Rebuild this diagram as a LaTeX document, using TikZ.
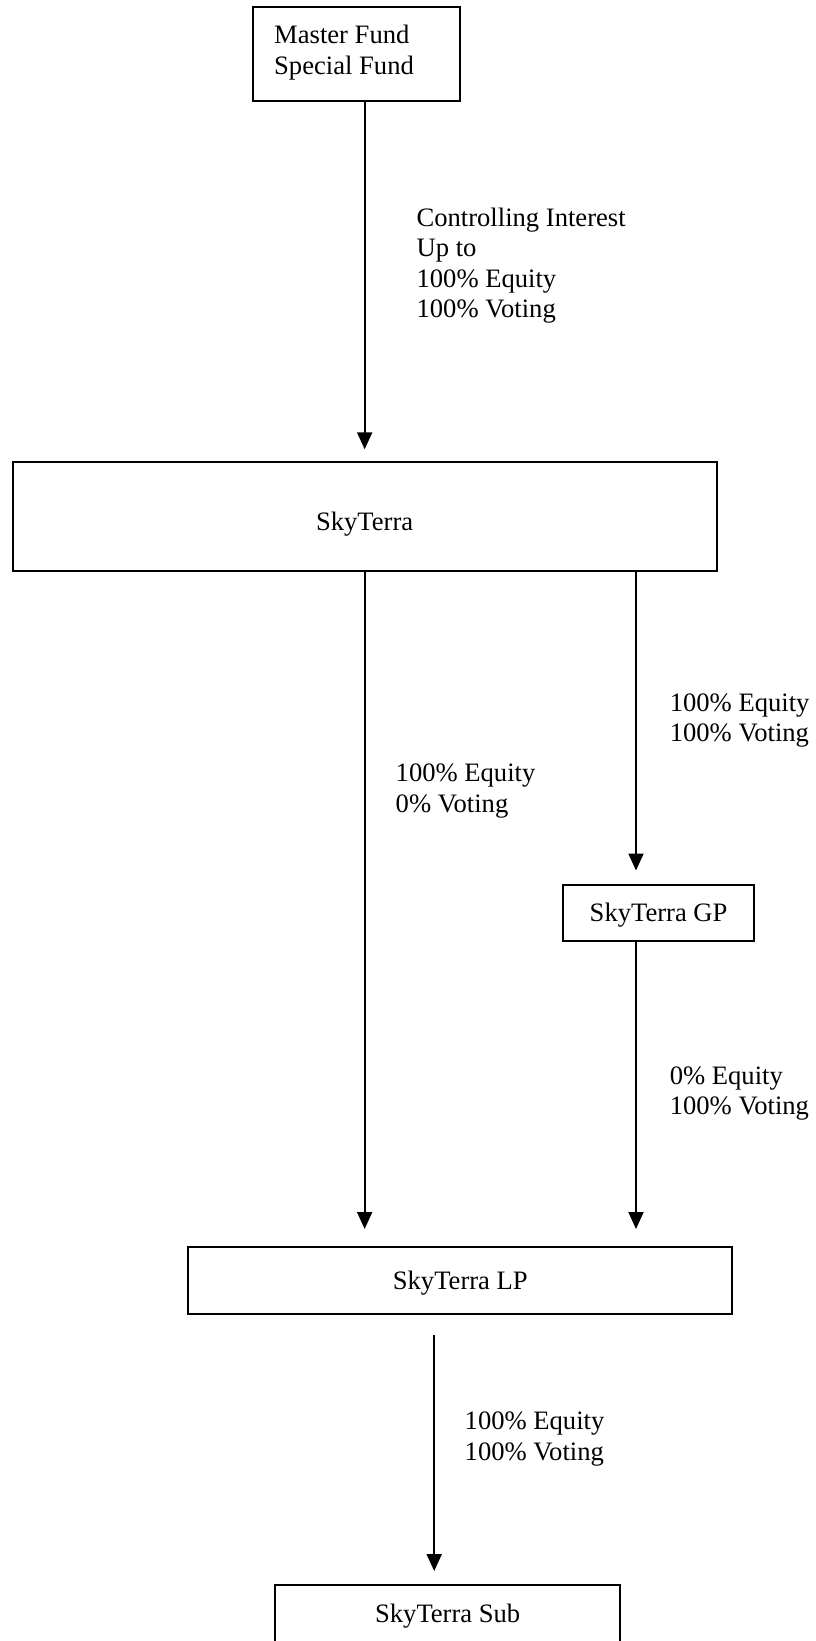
\documentclass[tikz,border=0pt]{standalone}
\usepackage{fontspec}
\setmainfont{Liberation Serif}
\usetikzlibrary{arrows.meta}
\newcommand{\lowr}[2]{\raisebox{-#1pt}[\height][\depth]{#2}}
\begin{document}
\begin{tikzpicture}[x=1pt,y=-1pt,
  box/.style={draw, line width=2pt, inner sep=0pt, font=\fontsize{26.6}{30.5}\selectfont},
  lbl/.style={inner sep=0pt, anchor=west, align=left, font=\fontsize{26.6}{30.5}\selectfont},
  arr/.style={line width=2pt, -{Triangle[width=15pt,length=17pt]}}]
\clip (0,0) rectangle (815,1641);
\useasboundingbox (0,0) rectangle (815,1641);
\node[box, minimum width=207pt, minimum height=94pt] (master) at (356.75,54.4) {};
\node[lbl] (mtext) at (274,52.7) {Master Fund\\Special Fund};
\node[box, minimum width=704pt, minimum height=109pt] (sky) at (364.65,516.8) {\lowr{7}{SkyTerra}};
\node[box, minimum width=191.4pt, minimum height=55.5pt] (gp) at (658.6,912.75) {\lowr{2.5}{SkyTerra GP}};
\node[box, minimum width=544pt, minimum height=67pt] (lp) at (460.3,1280.5) {\lowr{3}{SkyTerra LP}};
\node[box, minimum width=345.4pt, minimum height=60pt] (sub) at (447.7,1615) {\lowr{1}{SkyTerra Sub}};
\coordinate (rx) at (636,0);
\coordinate (bx) at (434.2,0);
\draw[arr, shorten >=12pt] (master.south -| sky.north) -- (sky.north);
\draw[arr, shorten >=17pt] (sky.south) -- (sky.south |- lp.north);
\draw[arr, shorten >=13.5pt] (sky.south -| rx) -- (gp.north -| rx);
\draw[arr, shorten >=17pt] (gp.south -| rx) -- (lp.north -| rx);
\draw[arr, shorten <=20pt, shorten >=13pt] (lp.south -| bx) -- (sub.north -| bx);
\node[lbl] (l1) at (416.4,265.4) {Controlling Interest\\Up to\\100\% Equity\\100\% Voting};
\node[lbl] (l2) at (395.5,790.8) {100\% Equity\\0\% Voting};
\node[lbl] (l3) at (669.6,720.7) {100\% Equity\\100\% Voting};
\node[lbl] (l4) at (669.6,1093.7) {0\% Equity\\100\% Voting};
\node[lbl] (l5) at (464.5,1438.9) {100\% Equity\\100\% Voting};
\end{tikzpicture}
\end{document}
